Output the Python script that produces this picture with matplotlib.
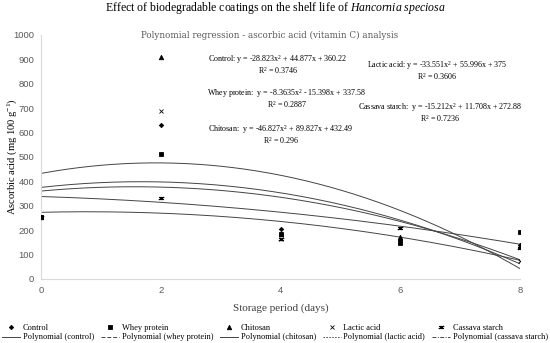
import numpy as np
import matplotlib
matplotlib.use("Agg")
from matplotlib import pyplot as plt, rcParams
from matplotlib.lines import Line2D

rcParams['font.family'] = 'serif'
rcParams['font.serif'] = ['Liberation Serif']
rcParams['mathtext.fontset'] = 'custom'
rcParams['mathtext.rm'] = 'Liberation Serif'
rcParams['mathtext.it'] = 'Liberation Serif:italic'

# Storage days and measured ascorbic acid (mg 100 g-1)
DAYS = [0, 2, 4, 6, 8]
CONTROL = [255, 630, 205, 160, 139]
WHEY = [255, 510, 184, 145, 193]
CHITOSAN = [255, 910, 184, 170, 135]
LACTIC = [255, 690, 164, 150, 74]
CASSAVA = [255, 330, 164, 209, 127]

# Trendline coefficients shown on the chart (x = sample index, day/2)
COEF_CONTROL = [-28.823, 44.877, 360.22]
COEF_WHEY = [-8.3635, -15.398, 337.58]
COEF_CHITOSAN = [-46.827, 89.827, 432.49]
COEF_LACTIC = [-33.551, 55.996, 375]
COEF_CASSAVA = [-15.212, 11.708, 272.88]

NAMES = ['Control', 'Whey protein', 'Chitosan', 'Lactic acid', 'Cassava starch']
POLY_NAMES = ['Polynomial (control)', 'Polynomial (whey protein)', 'Polynomial (chitosan)',
              'Polynomial (lactic acid)', 'Polynomial (cassava starch)']
MARKERS = ['D', 's', '^', 'x', '$\u0436$']
SIZES = [2.2, 3.2, 3.2, 3.0, 3.5]
STYLES = ['-', (0, (4, 2)), '-', (0, (1.5, 1.5)), (0, (4, 1.5, 1, 1.5))]

series = [CONTROL, WHEY, CHITOSAN, LACTIC, CASSAVA]
coefs = [COEF_CONTROL, COEF_WHEY, COEF_CHITOSAN, COEF_LACTIC, COEF_CASSAVA]

fig = plt.figure(figsize=(5.5, 3.43), dpi=100)
ax = fig.add_axes([0.075, 0.187, 0.87, 0.711])

t = np.linspace(0, 8, 200)
for vals, c, m, s in zip(series, coefs, MARKERS, SIZES):
    ax.plot(DAYS, vals, linestyle='none', marker=m, color='black', markersize=s,
            markeredgewidth=0.6, zorder=3)
    ax.plot(t, np.polyval(c, t / 2), color='#444444', linewidth=0.7, zorder=2)

ax.set_xlim(0, 8)
ax.set_ylim(0, 1000)
ax.set_xticks(range(0, 9, 2))
ax.set_yticks(range(0, 1001, 100))
for sp in ['top', 'right']:
    ax.spines[sp].set_visible(False)
for sp in ['left', 'bottom']:
    ax.spines[sp].set_color('#d9d9d9')
    ax.spines[sp].set_linewidth(0.8)
ax.tick_params(length=0, labelsize=6.8, labelcolor='#595959', pad=5)
for lab in ax.get_xticklabels() + ax.get_yticklabels():
    lab.set_family('Liberation Sans')

ax.set_xlabel('Storage period (days)', fontsize=8, color='#404040', labelpad=6)
ax.set_ylabel('Ascorbic acid (mg 100 g$^{-1}$)', fontsize=7.6, color='black')
ax.yaxis.set_label_coords(-0.046, 0.5)

fig.text(0.5, 0.977, 'Effect of biodegradable coatings on the shelf life of $\\it{Hancornia\\ speciosa}$',
         ha='center', va='center', fontsize=8.5)
fig.text(0.49, 0.898, 'Polynomial regression - ascorbic acid (vitamin C) analysis',
         ha='center', va='center', fontsize=6.3, color='#595959',
         fontfamily='DejaVu Serif')

eqs = [
    ('Control: y = -28.823x$^{2}$ + 44.877x + 360.22', 'R$^{2}$ = 0.3746', 278, 60),
    ('Whey protein:  y = -8.3635x$^{2}$ - 15.398x + 337.58', 'R$^{2}$ = 0.2887', 287, 93),
    ('Chitosan:  y = -46.827x$^{2}$ + 89.827x + 432.49', 'R$^{2}$ = 0.296', 281, 130),
    ('Lactic acid: y = -33.551x$^{2}$ + 55.996x + 375', 'R$^{2}$ = 0.3606', 437, 66),
    ('Cassava starch:  y = -15.212x$^{2}$ + 11.708x + 272.88', 'R$^{2}$ = 0.7236', 440, 108),
]
for line1, line2, px, py in eqs:
    fig.text(px / 550, 1 - py / 343, line1, ha='center', va='center', fontsize=5.8)
    fig.text(px / 550, 1 - (py + 11) / 343, line2, ha='center', va='center', fontsize=5.8)

handles = []
for name, pname, m, s, ls in zip(NAMES, POLY_NAMES, MARKERS, SIZES, STYLES):
    handles.append(Line2D([], [], linestyle='none', marker=m, color='black',
                          markersize=s, markeredgewidth=0.6, label=name))
    handles.append(Line2D([], [], linestyle=ls, color='#444444', linewidth=0.7, label=pname))
fig.legend(handles=handles, loc='lower center', bbox_to_anchor=(0.5, -0.01), ncol=5,
           frameon=False, fontsize=6, handlelength=2.2, handletextpad=0.3,
           columnspacing=0.8, labelspacing=0.2, borderaxespad=0.2)

fig.savefig('out.png', dpi=100)
